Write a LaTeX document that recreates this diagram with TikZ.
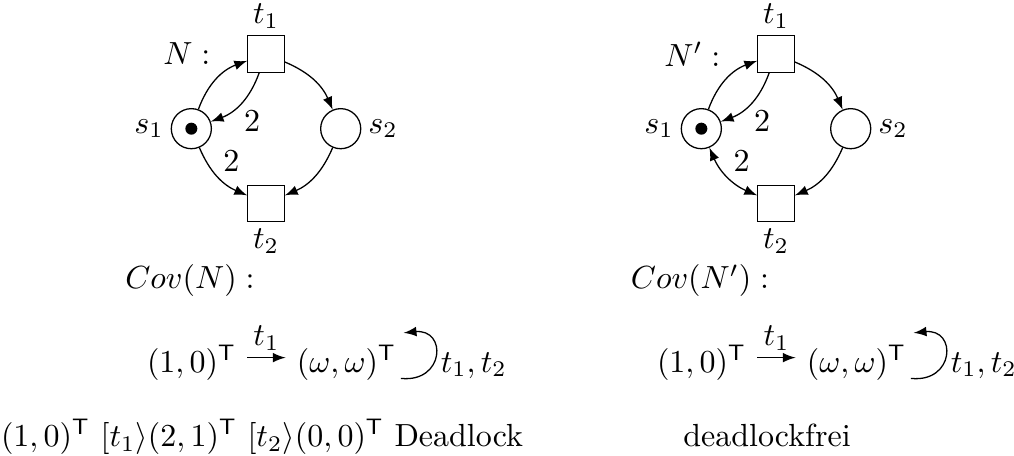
\documentclass[tikz,border=0pt]{standalone}
\usetikzlibrary{positioning}
\tikzset{
  place/.style={circle,draw,minimum size=0.44cm,inner sep=0pt},
  transition/.style={rectangle,draw,minimum size=0.4cm,inner sep=0pt},
  pfeil/.style={-latex},
  doppelpfeil/.style={latex-latex},
  every label/.style={inner sep=2pt},
  bend angle=22
}
\begin{document}
\begin{tikzpicture}
 \useasboundingbox (0,0) rectangle (11.134,5.007);
 \foreach \x/\nm/\i/\pf in {2.921/N/a/pfeil, 8.521/N'/b/doppelpfeil}{
    % Netz
    \node[transition,label=above:$t_1$] (t1\i) at (\x,4.414) {};
    \node[place,label=left:$s_1$] (s1\i) at (\x-0.82,3.594) {};
    \node[place,label=right:$s_2$] (s2\i) at (\x+0.82,3.594) {};
    \node[transition,label=below:$t_2$] (t2\i) at (\x,2.774) {};
    \node[left=0.28cm of t1\i] (name\i) {$\nm:$};
    \fill (s1\i) circle (0.066);
    \draw[pfeil] (s1\i) to[bend left=25] (t1\i);
    \draw[pfeil] (t1\i) to[bend left=25] node[pos=0.55,anchor=north west,inner sep=1.5pt] {$2$} (s1\i);
    \draw[pfeil] (t1\i) to[bend left] (s2\i);
    \draw[pfeil] (s2\i) to[bend left] (t2\i);
    \draw[\pf] (s1\i) to[bend right] node[auto,inner sep=1.5pt] {$2$} (t2\i);
    % Ueberdeckungsgraph
    \node[anchor=base] (cov\i) at (\x-0.835,1.834) {$Cov(\nm):$};
    \node[anchor=base] (m0\i) at (\x-0.818,0.922) {$(1,0)^{\mathsf T}$};
    \node[right=0.42cm of m0\i] (m1\i) {$(\omega,\omega)^{\mathsf T}$};
    \draw[pfeil] ([yshift=1.5pt]m0\i.east) -- node[above,inner sep=2pt] {$t_1$} ([yshift=1.5pt]m1\i.west);
    \draw[pfeil] ([shift={(-0.07,-0.07)}]m1\i.base east) .. controls +(0.48,-0.05) and +(0.48,0.05) .. ([shift={(-0.04,0.43)}]m1\i.base east);
    \node[anchor=base west,inner sep=0pt] (lab\i) at ([xshift=0.36cm]m1\i.base east) {$t_1,t_2$};
 }
 \node[anchor=base] (seq) at (2.877,0.105) {$(1,0)^{\mathsf T}\ [t_1\rangle(2,1)^{\mathsf T}\ [t_2\rangle(0,0)^{\mathsf T}$ Deadlock};
 \node[anchor=base] (frei) at (8.422,0.105) {deadlockfrei};
\end{tikzpicture}
\end{document}
